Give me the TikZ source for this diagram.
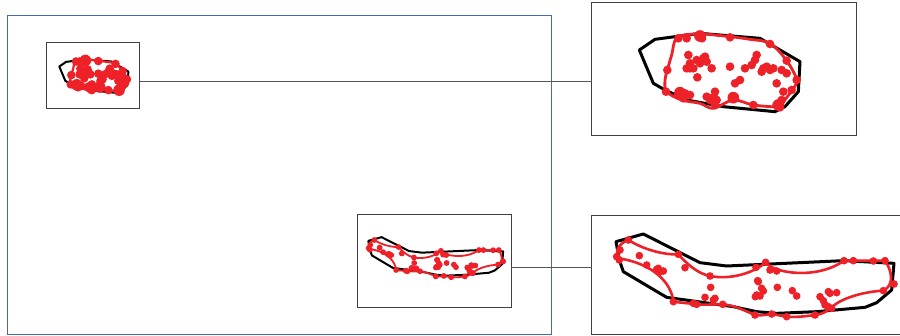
\documentclass[tikz,border=0pt]{standalone}
\usetikzlibrary{calc}
\definecolor{dotred}{HTML}{EE2028}
\definecolor{frameblue}{HTML}{4A68B0}
\definecolor{boxgray}{HTML}{404040}
\definecolor{conngray}{HTML}{555555}
\tikzset{
  box/.style={draw=boxgray, line width=0.9pt, inner sep=0pt, outer sep=0pt},
  conn/.style={draw=conngray, line width=0.9pt},
  hull/.style={draw=black, line join=round},
  redcurve/.style={draw=dotred, line join=round},
}
% #1 black width, #2 red width, #3 dot radius (zoom units)
\newcommand\TopShape[3]{%
  \draw[hull, line width=#1] (148,150) -- (195,118) -- (330,100) -- (510,115) -- (630,185)
     -- (625,275) -- (585,320) -- (555,335) -- (400,320) -- (290,300) -- (225,270) -- (190,250) -- cycle;
  \draw[redcurve, line width=#2] plot[smooth cycle, tension=0.55] coordinates {
     (262,112) (330,102) (420,110) (480,118) (540,130) (590,182) (620,240) (605,272)
     (580,305) (565,320) (490,315) (430,300) (370,325) (330,310) (275,300) (230,275)
     (225,240) (232,210) (245,165)};
  \foreach \x/\y in {336/115, 265/115, 290/115, 420/112, 540/132, 590/182, 620/240,
     605/270, 232/210, 228/275, 270/275, 300/285, 280/295, 350/290, 370/295, 375/315, 375/275,
     430/290, 490/315, 560/315, 575/300, 570/322, 295/165, 300/190, 320/180, 340/175, 350/185,
     290/205, 310/205, 365/205, 420/200, 465/205, 485/195, 500/165, 495/180, 520/205, 540/210,
     550/205, 575/210, 560/250, 590/220, 580/275, 450/240, 435/250, 322/232, 345/170, 300/205,
     330/190, 515/215, 530/200, 285/280, 360/300, 380/300, 265/285}
     {\fill[dotred] (\x,\y) circle[radius=#3];}
  \foreach \x/\y in {330/108, 370/298, 430/293, 270/278, 565/315}
     {\fill[dotred] (\x,\y) circle[radius=1.35*#3];}
}
\newcommand\BotShape[3]{%
  \draw[hull, line width=#1] (78,95) -- (160,72) -- (330,158) -- (410,168) -- (760,152) -- (912,160)
     -- (905,240) -- (860,278) -- (825,292) -- (680,305) -- (560,310) -- (500,305) -- (430,290)
     -- (230,262) -- (100,185) -- (88,150) -- cycle;
  \draw[redcurve, line width=#2] (115,90) .. controls (160,118) and (220,135) .. (265,133)
     .. controls (290,160) and (320,190) .. (360,198)
     .. controls (420,210) and (490,190) .. (527,157)
     .. controls (550,190) and (680,210) .. (762,152)
     -- (885,152)
     .. controls (905,180) and (915,225) .. (880,242)
     .. controls (820,245) and (750,265) .. (722,295)
     .. controls (705,308) and (690,314) .. (675,315)
     .. controls (640,320) and (610,322) .. (590,320)
     .. controls (570,318) and (555,312) .. (545,312)
     .. controls (530,314) and (510,318) .. (495,315)
     .. controls (460,300) and (430,285) .. (398,283)
     .. controls (360,283) and (340,285) .. (320,283)
     .. controls (300,280) and (270,278) .. (250,275)
     .. controls (245,220) and (190,160) .. (85,145)
     .. controls (75,125) and (85,100) .. (115,90) -- cycle;
  \foreach \x/\y in {115/90, 90/120, 80/140, 88/150, 148/137, 265/133, 285/173, 170/165, 200/178,
     210/185, 220/183, 205/175, 360/198, 362/232, 345/262, 375/265, 370/270, 250/275, 320/283,
     310/280, 398/283, 495/315, 545/312, 590/320, 675/315, 527/157, 498/172, 540/180, 560/183,
     503/212, 515/235, 520/243, 500/255, 510/258, 562/232, 607/242, 620/258, 690/260, 700/272,
     720/250, 740/248, 715/245, 705/285, 725/295, 715/290, 762/152, 790/152, 850/153, 885/152,
     880/242, 912/222, 505/215, 496/260}
     {\fill[dotred] (\x,\y) circle[radius=#3];}
}
\begin{document}
\begin{tikzpicture}[x=1pt,y=-1pt]
\useasboundingbox (0,0) rectangle (900,335);
\fill[white] (0,0) rectangle (900,335);
\draw[frameblue, line width=0.9pt] (7,15) rectangle (551,334);
% boxes
\node[box, minimum width=92.3pt, minimum height=66pt] (zoomA) at (92.85,75.3) {};
\node[box, minimum width=265pt, minimum height=132.3pt] (bigA) at (724.2,68.8) {};
\node[box, minimum width=154pt, minimum height=92.6pt] (zoomB) at (434.3,261) {};
\node[box, minimum width=312pt, minimum height=119pt] (bigB) at (747.7,274.5) {};
% connectors
\draw[conn] (zoomA.east |- 0,81) -- (bigA.west |- 0,81);
\draw[conn] (zoomB.east |- 0,267) -- (bigB.west |- 0,267);
% shapes
\begin{scope}[shift={(590,0)}, scale=0.33333]
  \TopShape{3pt}{2.8pt}{13}
\end{scope}
\begin{scope}[shift={(38.1,45)}, scale=0.1433]
  \TopShape{2pt}{2.2pt}{30}
\end{scope}
\begin{scope}[shift={(590,210)}, scale=0.33333]
  \BotShape{3pt}{2.6pt}{11.5}
\end{scope}
\begin{scope}[shift={(355.7,225.5)}, scale=0.1617]
  \BotShape{2pt}{1.8pt}{18}
\end{scope}
\end{tikzpicture}
\end{document}
